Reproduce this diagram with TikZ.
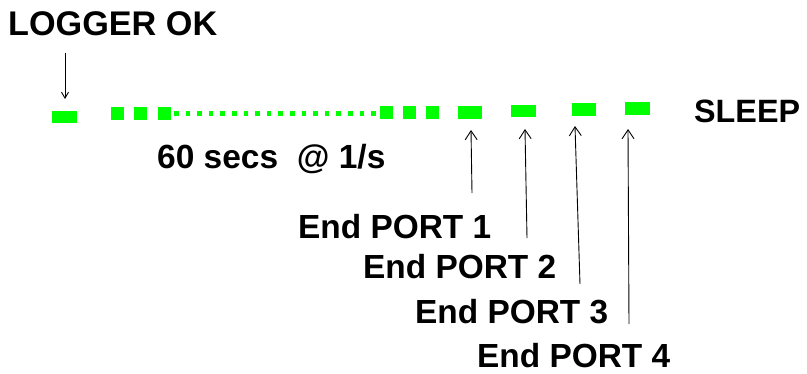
\documentclass[tikz,border=0pt]{standalone}
\usepackage{fontspec}
\setmainfont{Liberation Sans}
\usetikzlibrary{arrows.meta}
\definecolor{led}{HTML}{00FF00}
\begin{document}
\begin{tikzpicture}[x=1pt,y=-1pt,
  lbl/.style={anchor=base west,inner sep=0pt,font=\bfseries\fontsize{33.4}{40}\selectfont},
  blk/.style={fill=led,draw=none},
  arr/.style={line width=0.9pt,-{Straight Barb[length=9pt,width=12pt]}},
  arrs/.style={line width=0.9pt,-{Straight Barb[length=6pt,width=7pt]}}]
\useasboundingbox (0,0) rectangle (807,373);
\fill[white] (0,0) rectangle (807,373);
% texts
\node[lbl,font=\bfseries\fontsize{34.2}{40}\selectfont] (logger) at (8,35) {LOGGER OK};
\node[lbl,font=\bfseries\fontsize{33.5}{40}\selectfont] (secs) at (157,168) {60 secs\ \ @ 1/s};
\node[lbl,font=\bfseries\fontsize{32.3}{38}\selectfont] (sleep) at (694,122) {SLEEP};
\node[lbl] (p1) at (298,238) {End PORT 1};
\node[lbl] (p2) at (363,278) {End PORT 2};
\node[lbl] (p3) at (415,323) {End PORT 3};
\node[lbl] (p4) at (477,367) {End PORT 4};
% green blocks
\fill[blk] (52,111) rectangle (77,123);
\fill[blk] (111,107) rectangle (124,120);
\fill[blk] (134,107) rectangle (147,120);
\fill[blk] (158,107) rectangle (171,120);
\foreach \i in {0,...,17} {
  \fill[blk] ({174+11.6*\i},111) rectangle ({178.5+11.6*\i},115.5);
}
\fill[blk] (380,106) rectangle (393,119);
\fill[blk] (403,106) rectangle (416,119);
\fill[blk] (426,106) rectangle (439,119);
\fill[blk] (458,106) rectangle (482,119);
\fill[blk] (511,105) rectangle (536,117);
\fill[blk] (572,103) rectangle (596,116);
\fill[blk] (625,102) rectangle (650,115);
% arrows
\coordinate (la) at (65,53);
\coordinate (lb) at (65,99);
\draw[arrs] (la) -- (lb);
\coordinate (a1s) at (472,193); \coordinate (a1e) at (471,130);
\coordinate (a2s) at (527,238); \coordinate (a2e) at (525,129);
\coordinate (a3s) at (580,284); \coordinate (a3e) at (575,126);
\coordinate (a4s) at (629,324); \coordinate (a4e) at (628,129);
\draw[arr] (a1s) -- (a1e);
\draw[arr] (a2s) -- (a2e);
\draw[arr] (a3s) -- (a3e);
\draw[arr] (a4s) -- (a4e);
\end{tikzpicture}
\end{document}
